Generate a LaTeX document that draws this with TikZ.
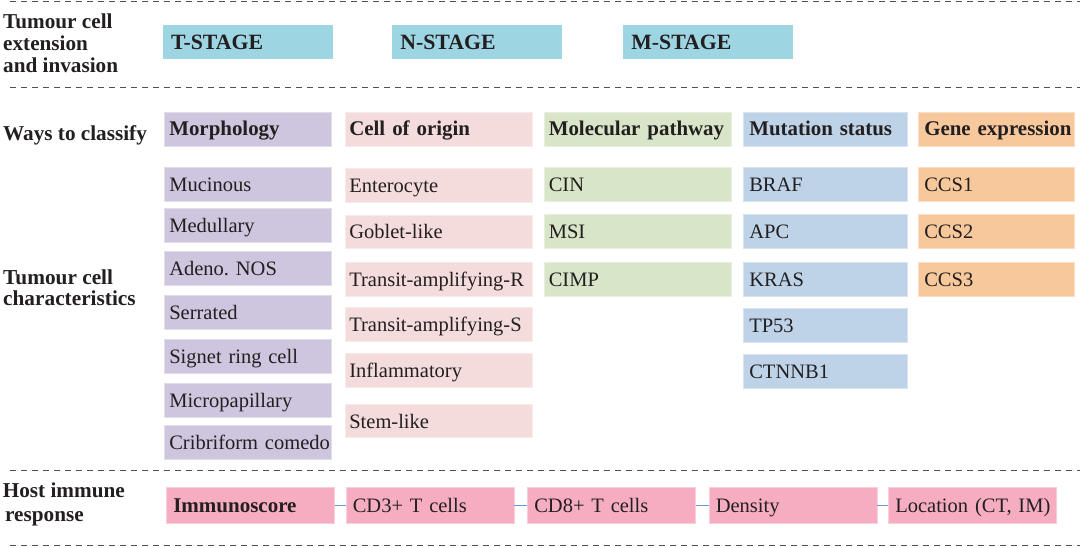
\documentclass[tikz,border=0pt]{standalone}
\usepackage{fontspec}
\setmainfont{Liberation Serif}
\frenchspacing
\definecolor{txt}{HTML}{231F20}
\definecolor{cstage}{HTML}{9DD5E2}
\definecolor{cmorph}{HTML}{CEC6DF}
\definecolor{ccell}{HTML}{F3DCDB}
\definecolor{cmol}{HTML}{D8E5C8}
\definecolor{cmut}{HTML}{BED3E8}
\definecolor{cgene}{HTML}{F8C89D}
\definecolor{cimm}{HTML}{F6ADC1}
\definecolor{cconn}{HTML}{5B9FE0}
\definecolor{cdash}{HTML}{505050}
\tikzset{
  basebox/.style={rectangle, anchor=north west, inner ysep=0pt, minimum height=34pt,
    text height=14pt, text depth=0pt, align=left, text=txt,
    font=\fontsize{20.5}{24}\selectfont, line width=0.6pt,
    execute at begin node=\hbox\bgroup, execute at end node=\egroup},
  hdr/.style={font=\fontsize{20.9}{24}\selectfont\bfseries},
  morphbox/.style={basebox, fill=cmorph, draw=cmorph!60!white, inner xsep=5pt, text width=157pt},
  cellbox/.style={basebox, fill=ccell, draw=ccell!60!white, inner xsep=4pt, text width=178.7pt, minimum height=33.4pt},
  molbox/.style={basebox, fill=cmol, draw=cmol!60!white, inner xsep=4.5pt, text width=178pt},
  mutbox/.style={basebox, fill=cmut, draw=cmut!60!white, inner xsep=6pt, text width=152pt},
  genebox/.style={basebox, fill=cgene, draw=cgene!60!white, inner xsep=6pt, text width=144pt},
  stagebox/.style={basebox, font=\fontsize{21.8}{24}\selectfont\bfseries, fill=cstage, inner xsep=8pt, text width=154pt, text height=13.5pt},
  immbox/.style={basebox, fill=cimm, draw=cimm!60!white, inner xsep=7pt, text width=154pt, minimum height=36pt, text height=15pt},
  lbl/.style={inner sep=0pt, align=left, text=txt, font=\fontsize{21.2}{22.3}\selectfont\bfseries},
  dashline/.style={draw=cdash, line width=0.9pt, dash pattern=on 6pt off 5pt},
  conn/.style={draw=cconn, line width=1.1pt}
}
\begin{document}
\begin{tikzpicture}[x=1pt,y=-1pt]
\useasboundingbox (0,0) rectangle (1080,548);
\fill[white] (0,0) rectangle (1080,548);

% separators
\draw[dashline] (10,1.5) -- (1080,1.5);
\draw[dashline] (10,87.5) -- (1080,87.5);
\draw[dashline] (10,470) -- (1080,470);
\draw[dashline] (10,545.5) -- (1080,545.5);

% left labels
\node[lbl, anchor=north west] (lab1) at (3,13.2) {Tumour cell\\extension\\and invasion};
\node[lbl, anchor=base west] (lab2) at (3,140.7) {Ways to classify};
\node[lbl, anchor=north west, font=\fontsize{21.3}{20.7}\selectfont\bfseries] (lab3) at (3,270) {Tumour cell\\characteristics};
\node[lbl, anchor=north west, font=\fontsize{21.2}{23.8}\selectfont\bfseries] (lab4) at (2.7,482.7) {Host immune\\\kern2.3pt response};

% stages
\node[stagebox] (ts) at (162.7,25) {T-STAGE};
\node[stagebox] (ns) at (392,25) {N-STAGE};
\node[stagebox] (ms) at (623,25) {M-STAGE};

% headers
\node[morphbox, hdr] (hmorph) at (164,111.7) {Morphology};
\node[cellbox, hdr, minimum height=34pt] (hcell) at (345,111.7) {Cell of origin};
\node[molbox, hdr] (hmol) at (544,111.7) {Molecular pathway};
\node[mutbox, hdr] (hmut) at (743,111.7) {Mutation status};
\node[genebox, hdr] (hgene) at (918,111.7) {Gene expression};

% morphology
\node[morphbox] (m1) at (164,167.3) {Mucinous};
\node[morphbox] (m2) at (164,208.3) {Medullary};
\node[morphbox] (m3) at (164,251) {Adeno. NOS};
\node[morphbox] (m4) at (164,295) {Serrated};
\node[morphbox] (m5) at (164,339.3) {Signet ring cell};
\node[morphbox] (m6) at (164,382.7) {Micropapillary};
\node[morphbox] (m7) at (164,425) {Cribriform comedo};

% cell of origin
\node[cellbox] (c1) at (345,168.3) {Enterocyte};
\node[cellbox] (c2) at (345,215) {Goblet-like};
\node[cellbox] (c3) at (345,262.3) {Transit-amplifying-R};
\node[cellbox] (c4) at (345,307.3) {Transit-amplifying-S};
\node[cellbox] (c5) at (345,353.3) {Inflammatory};
\node[cellbox] (c6) at (345,404) {Stem-like};

% molecular pathway
\node[molbox] (p1) at (544,167.3) {CIN};
\node[molbox] (p2) at (544,214.5) {MSI};
\node[molbox] (p3) at (544,262.3) {CIMP};

% mutation status
\node[mutbox] (u1) at (743,167.3) {BRAF};
\node[mutbox] (u2) at (743,214.5) {APC};
\node[mutbox] (u3) at (743,262.3) {KRAS};
\node[mutbox] (u4) at (743,308) {TP53};
\node[mutbox] (u5) at (743,354) {CTNNB1};

% gene expression
\node[genebox] (g1) at (918,167.3) {CCS1};
\node[genebox] (g2) at (918,214.5) {CCS2};
\node[genebox] (g3) at (918,262.3) {CCS3};

% immune response
\node[immbox, font=\fontsize{21}{24}\selectfont\bfseries] (i1) at (166,487) {Immunoscore};
\node[immbox] (i2) at (345.5,487) {CD3+ T cells};
\node[immbox] (i3) at (527,487) {CD8+ T cells};
\node[immbox] (i4) at (708.5,487) {Density};
\node[immbox] (i5) at (888,487) {Location (CT, IM)};
\draw[conn] (i1.east) -- (i2.west);
\draw[conn] (i2.east) -- (i3.west);
\draw[conn] (i3.east) -- (i4.west);
\draw[conn] (i4.east) -- (i5.west);
\end{tikzpicture}
\end{document}
